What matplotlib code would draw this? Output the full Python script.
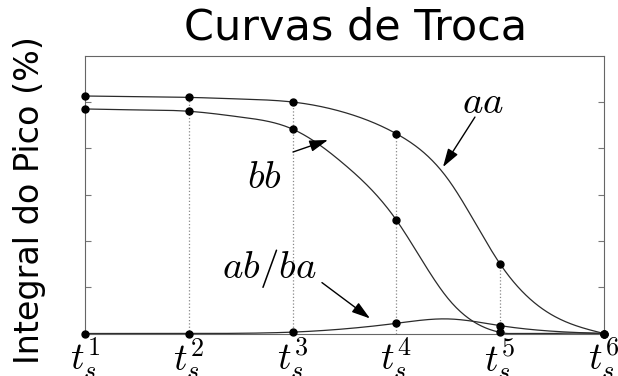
import numpy as np
import matplotlib
matplotlib.use("Agg")
import matplotlib.pyplot as plt

plt.rcParams["mathtext.fontset"] = "cm"

# sample times (t_s^1 .. t_s^6) and half-steps in between
t_pos = [1, 2, 3, 4, 5, 6]
t_labels = [r"$t_s^1$", r"$t_s^2$", r"$t_s^3$", r"$t_s^4$", r"$t_s^5$", r"$t_s^6$"]
x_curve = [1, 1.5, 2, 2.5, 3, 3.5, 4, 4.5, 5, 5.5, 6]

# peak integral (%) along each curve, at x_curve
aa = [102.6, 102.3, 102.0, 101.3, 100.0, 95.5, 86.3, 66.5, 30.0, 8.0, 0.0]
bb = [97.0, 96.6, 96.0, 93.5, 88.3, 73.0, 49.0, 15.0, 0.5, 0.0, 0.0]
ab = [0.0, 0.0, 0.0, 0.1, 0.6, 2.0, 4.4, 6.3, 3.4, 1.0, 0.0]


def spline(x, y, xs):
    # natural cubic spline through (x, y)
    x = np.asarray(x, float)
    y = np.asarray(y, float)
    n = len(x)
    h = np.diff(x)
    A = np.zeros((n, n))
    r = np.zeros(n)
    A[0, 0] = A[-1, -1] = 1
    for k in range(1, n - 1):
        A[k, k - 1] = h[k - 1]
        A[k, k] = 2 * (h[k - 1] + h[k])
        A[k, k + 1] = h[k]
        r[k] = 6 * ((y[k + 1] - y[k]) / h[k] - (y[k] - y[k - 1]) / h[k - 1])
    M = np.linalg.solve(A, r)
    xs = np.asarray(xs, float)
    i = np.clip(np.searchsorted(x, xs) - 1, 0, n - 2)
    a = x[i + 1] - xs
    b = xs - x[i]
    hi = h[i]
    return (M[i] * a**3 / (6 * hi) + M[i + 1] * b**3 / (6 * hi)
            + (y[i] / hi - M[i] * hi / 6) * a
            + (y[i + 1] / hi - M[i + 1] * hi / 6) * b)


fig = plt.figure(figsize=(6.18, 3.76), dpi=100)
ax = fig.add_axes([0.1375, 0.113, 0.8398, 0.7388])

xs = np.linspace(1, 6, 500)
for series in (aa, bb, ab):
    ax.plot(xs, np.clip(spline(x_curve, series, xs), 0, None), color="#2b2b2b", lw=0.9)
    ax.plot(t_pos, series[::2], "o", color="black", ms=5, clip_on=False, zorder=5)

# dotted guides at the intermediate sample times
aa_at_t = aa[::2]
ax.vlines(t_pos[1:5], 0, aa_at_t[1:5], colors="#888888", linestyles=":", lw=0.9)

ax.set_xlim(1, 6)
ax.set_ylim(0, 120)
ax.set_xticks(t_pos)
ax.set_xticklabels(t_labels, fontsize=27)
ax.tick_params(axis="x", length=0, pad=2)
ax.set_yticks([20, 40, 60, 80, 100])
ax.tick_params(axis="y", direction="in", length=4, color="#777777",
               left=True, right=True, labelleft=False)
for s in ax.spines.values():
    s.set_color("#666666")
    s.set_linewidth(0.8)

arrow = dict(arrowstyle="-|>,head_length=0.8,head_width=0.25", color="black",
             lw=1.0, shrinkA=0, shrinkB=0, mutation_scale=14)
ax.annotate("", xy=(4.449, 71.9), xytext=(4.757, 93.5), arrowprops=arrow)
ax.annotate("", xy=(3.341, 83.6), xytext=(3.004, 78.4), arrowprops=arrow)
ax.annotate("", xy=(3.746, 6.5), xytext=(3.283, 22.0), arrowprops=arrow)

ax.text(4.83, 100, r"$aa$", fontsize=28, ha="center", va="center")
ax.text(2.73, 67.5, r"$bb$", fontsize=28, ha="center", va="center")
ax.text(2.78, 28.0, r"$ab/ba$", fontsize=28, ha="center", va="center")

fig.text(356 / 618, 1 - 39 / 376, "Curvas de Troca", fontsize=31,
         ha="center", va="baseline")
fig.text(30 / 618, 1 - 200 / 376, "Integral do Pico (%)", fontsize=24,
         rotation=90, ha="center", va="center")

fig.savefig("out.png", dpi=100)
